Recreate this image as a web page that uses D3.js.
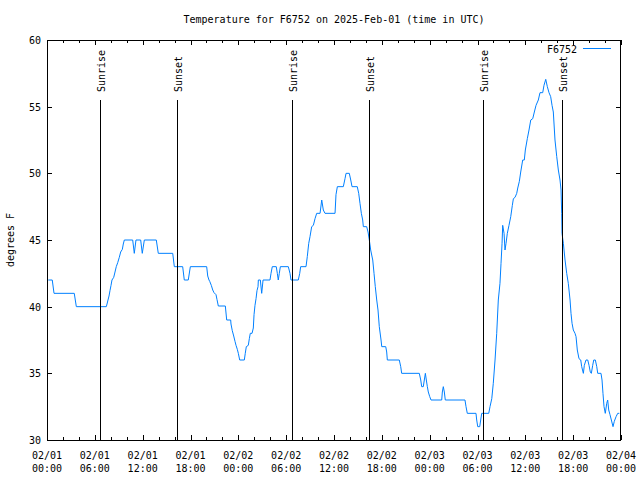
<!DOCTYPE html>
<html>
<head>
<meta charset="utf-8">
<script src="https://cdn.jsdelivr.net/npm/d3@7"></script>
<style>
  html, body { margin: 0; padding: 0; background: #fff; }
  svg { display: block; }
  text { font-family: "DejaVu Sans Mono", "Liberation Mono", monospace; font-size: 10px; fill: #000; }
</style>
</head>
<body>
<svg id="chart" width="640" height="480"></svg>
<script>
// ---- data (hours since 2025-02-01 00:00 UTC, temperature in degrees F) ----
const titleText = "Temperature for F6752 on 2025-Feb-01 (time in UTC)";
const seriesName = "F6752";
const yLabel = "degrees F";
const startUTC = Date.UTC(2025, 1, 1, 0, 0);
const endUTC = Date.UTC(2025, 1, 4, 0, 0);
const yTicks = [30, 35, 40, 45, 50, 55, 60];
const sunriseHours = [6.65, 30.77, 54.73];
const sunsetHours = [16.35, 40.43, 64.56];
const hours = [
  0.16, 0.66, 0.88, 3.42, 3.68, 7.44, 7.53, 7.65, 7.78, 7.90, 8.03, 8.15, 8.37, 8.53, 8.69, 8.87, 9.07, 9.24, 9.45, 9.57,
  9.70, 10.75, 10.95, 11.16, 11.75, 11.95, 12.21, 13.71, 13.96, 15.77, 15.97, 17.02, 17.22, 17.72, 17.98, 20.03, 20.16, 20.32, 20.41, 20.61,
  20.79, 20.95, 21.20, 21.32, 21.49, 22.37, 22.54, 23.04, 23.08, 23.24, 23.42, 23.58, 23.71, 23.87, 24.00, 24.17, 24.75, 24.87, 25.00, 25.25,
  25.38, 25.50, 25.72, 25.88, 25.97, 26.09, 26.22, 26.34, 26.47, 26.51, 26.76, 26.93, 27.10, 27.97, 28.10, 28.26, 28.76, 28.89, 29.01, 29.14,
  29.27, 30.27, 30.48, 30.61, 31.52, 31.70, 31.82, 32.49, 32.65, 32.83, 32.99, 33.20, 33.41, 33.62, 33.83, 34.25, 34.46, 34.66, 34.87, 36.13,
  36.25, 36.42, 37.17, 37.38, 37.51, 37.92, 38.10, 38.26, 38.92, 39.10, 39.26, 39.43, 39.60, 39.68, 40.10, 40.27, 40.43, 40.60, 40.86, 41.02,
  41.18, 41.36, 41.52, 41.68, 41.90, 41.99, 42.49, 42.61, 42.69, 44.19, 44.37, 44.49, 46.70, 46.88, 47.00, 47.20, 47.33, 47.46, 47.58, 47.71,
  47.83, 48.01, 48.17, 49.51, 49.59, 49.71, 49.84, 49.96, 52.43, 52.56, 52.72, 53.81, 53.90, 54.03, 54.28, 54.40, 54.53, 55.41, 55.57, 55.79,
  55.98, 56.20, 56.41, 56.61, 56.82, 56.95, 57.08, 57.16, 57.33, 57.45, 57.58, 57.74, 57.95, 58.17, 58.37, 58.50, 58.71, 58.92, 59.05, 59.25,
  59.42, 59.67, 59.87, 60.00, 60.25, 60.46, 60.68, 60.93, 61.13, 61.34, 61.63, 61.84, 62.18, 62.34, 62.56, 62.76, 62.97, 63.18, 63.35, 63.51,
  63.72, 63.94, 64.14, 64.35, 64.48, 64.56, 64.60, 64.77, 64.98, 65.19, 65.39, 65.61, 65.73, 65.86, 66.02, 66.23, 66.36, 66.52, 66.73, 66.95,
  67.07, 67.28, 67.40, 67.61, 67.83, 67.99, 68.15, 68.28, 68.45, 68.58, 68.78, 68.96, 69.08, 69.49, 69.62, 69.74, 69.87, 70.03, 70.21, 70.33,
  70.46, 70.62, 70.79, 71.00, 71.16, 71.38, 71.59, 71.79
];
const temps = [
  42, 42, 41, 41, 40, 40, 40.2, 40.5, 40.8, 41.2, 41.6, 42, 42.2, 42.6, 43, 43.3, 43.7, 44.1, 44.3, 44.7,
  45, 45, 44, 45, 45, 44, 45, 45, 44, 44, 43, 43, 42, 42, 43, 43, 42.3, 42, 41.9, 41.6,
  41.25, 41.05, 40.9, 40.55, 40.05, 40.05, 39, 39, 38.7, 38.2, 37.8, 37.4, 37.1, 36.8, 36.5, 36, 36, 36.5, 37, 37.1,
  37.6, 38, 38, 38.4, 39.4, 40.1, 40.6, 41.2, 41.5, 42, 42, 41, 42, 42, 42.5, 43, 43, 42.5, 42, 42.5,
  43, 43, 42.5, 42, 42, 42.5, 43, 43, 43.75, 44.75, 45.25, 46, 46.1, 46.6, 47, 47, 48, 47.25, 47, 47,
  48.4, 49, 49, 49.6, 50, 50, 49.5, 49, 49, 48.5, 47.75, 47, 46.5, 46, 46, 45.6, 45, 44.25, 43.5, 42.5,
  41.5, 40.5, 39.75, 38.5, 37.5, 37, 37, 36.6, 36, 36, 35.5, 35, 35, 34.5, 34, 34, 34.5, 35, 34.5, 34,
  33.6, 33.25, 33, 33, 33.6, 34, 33.6, 33, 33, 32.5, 32, 32, 31.5, 31, 31, 31.5, 32, 32, 32.5, 33.1,
  34.25, 36, 38, 40.5, 41.75, 43.25, 44.75, 46.1, 45.5, 44.25, 44.75, 45.5, 46.1, 46.75, 47.6, 48.1, 48.2, 48.5, 48.9, 49.4,
  50.1, 51, 51, 51.75, 52.6, 53.25, 54, 54.1, 54.6, 55.1, 55.5, 56.05, 56.05, 56.6, 57.05, 56.5, 56.05, 55.75, 55.1, 54.6,
  52.5, 51.25, 50.25, 49.5, 48.75, 47, 45.5, 44.75, 43.5, 42.5, 41.75, 40.5, 39.5, 38.75, 38.25, 38, 37.75, 36.75, 36.1, 36,
  35.5, 35, 35.6, 36, 36, 35.6, 35.1, 35, 35.6, 36, 36, 35.5, 35, 35, 34.5, 33.5, 32.5, 32, 32.75, 33,
  32.25, 31.9, 31.5, 31, 31.4, 31.75, 32, 32
];

// ---- layout ----
const W = 640, H = 480;
const m = { left: 47, right: 19, top: 40, bottom: 40 };
const svg = d3.select("#chart");
const hourMs = 3600 * 1000;
const toDate = h => new Date(startUTC + h * hourMs);

const x = d3.scaleUtc().domain([new Date(startUTC), new Date(endUTC)]).range([m.left, W - m.right]);
const y = d3.scaleLinear().domain([30, 60]).range([H - m.bottom, m.top]);

const data = hours.map((h, i) => ({ t: toDate(h), v: temps[i] }));

// title
svg.append("text").attr("x", 334).attr("y", 23).attr("text-anchor", "middle").text(titleText);

// y label
svg.append("text").attr("transform", "translate(14,240) rotate(-90)")
  .attr("text-anchor", "middle").text(yLabel);

// data line
svg.append("path").datum(data)
  .attr("fill", "none").attr("stroke", "#0080ff").attr("stroke-width", 1)
  .attr("d", d3.line().x(d => x(d.t)).y(d => y(d.v)));

// axes ticks
const majorT = d3.utcHour.every(6).range(new Date(startUTC), new Date(endUTC + 1));
const minorT = d3.utcHour.every(2).range(new Date(startUTC), new Date(endUTC + 1)).filter(d => d.getUTCHours() % 6 !== 0);
const fmtD = d3.utcFormat("%m/%d"), fmtT = d3.utcFormat("%H:%M");

function tickAxis(gen, transform, vals, size) {
  const g = svg.append("g").attr("transform", transform)
    .call(gen.tickValues(vals).tickSizeInner(size).tickSizeOuter(0).tickFormat(""));
  g.select(".domain").remove();
  g.selectAll("line").attr("stroke", "#000").attr("shape-rendering", "crispEdges");
  return g;
}
tickAxis(d3.axisBottom(x), `translate(0,${H - m.bottom})`, majorT, -5);
tickAxis(d3.axisBottom(x), `translate(0,${H - m.bottom})`, minorT, -3);
tickAxis(d3.axisTop(x), `translate(0,${m.top})`, majorT, -5);
tickAxis(d3.axisTop(x), `translate(0,${m.top})`, minorT, -3);
tickAxis(d3.axisLeft(y), `translate(${m.left},0)`, yTicks, -5);
tickAxis(d3.axisRight(y), `translate(${W - m.right},0)`, yTicks, -5);

// x labels
const xl = svg.append("g");
majorT.forEach(d => {
  const t = xl.append("text").attr("text-anchor", "middle").attr("x", x(d));
  t.append("tspan").attr("x", x(d)).attr("y", 459).text(fmtD(d));
  t.append("tspan").attr("x", x(d)).attr("y", 472).text(fmtT(d));
});
// y labels
yTicks.forEach(v => {
  svg.append("text").attr("x", 41).attr("y", y(v) + 4).attr("text-anchor", "end").text(v);
});

// sunrise / sunset lines
const sun = sunriseHours.map(h => ({ h, label: "Sunrise" })).concat(sunsetHours.map(h => ({ h, label: "Sunset" })));
sun.forEach(s => {
  const xx = Math.round(x(toDate(s.h))) + 0.5;
  svg.append("line").attr("x1", xx).attr("x2", xx).attr("y1", 100).attr("y2", H - m.bottom)
    .attr("stroke", "#000").attr("stroke-width", 1);
  svg.append("text").attr("transform", `translate(${xx + 4},92) rotate(-90)`)
    .attr("text-anchor", "start").text(s.label);
});

// border
svg.append("rect").attr("x", m.left + 0.5).attr("y", m.top + 0.5)
  .attr("width", W - m.left - m.right - 1).attr("height", H - m.top - m.bottom)
  .attr("fill", "none").attr("stroke", "#000").attr("stroke-width", 1);

// legend
svg.append("text").attr("x", 577).attr("y", 53).attr("text-anchor", "end").text(seriesName);
svg.append("line").attr("x1", 583).attr("x2", 611).attr("y1", 48.5).attr("y2", 48.5)
  .attr("stroke", "#0080ff").attr("stroke-width", 1);
</script>
</body>
</html>
